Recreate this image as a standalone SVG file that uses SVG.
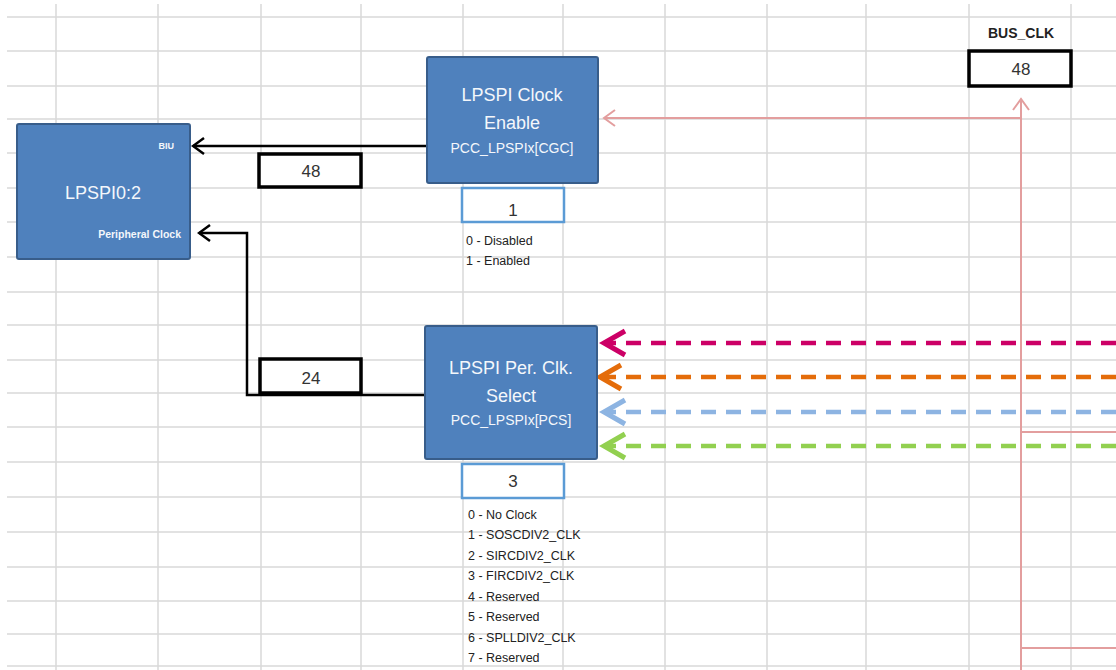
<svg xmlns="http://www.w3.org/2000/svg" width="1116" height="670" viewBox="0 0 1116 670">
<style>
.grid line{stroke:#d9d9d9;stroke-width:1.5}
.blk{fill:#4f81bd;stroke:#385d8a;stroke-width:2}
.t{font-family:"Liberation Sans",Arial,sans-serif}
.wt{fill:#f4f7fb;text-anchor:middle}
.val{fill:#ffffff;stroke:#000;stroke-width:3.5}
.sel{fill:#ffffff;stroke:#5b9bd5;stroke-width:2.5}
.vt{fill:#333;font-size:17px;text-anchor:middle}
.opt{fill:#222;font-size:12.5px}
.bl{fill:none;stroke:#000;stroke-width:2.5}
.pk{fill:none;stroke:#e39e9e;stroke-width:2}
.ds{fill:none;stroke-width:4.5;stroke-dasharray:15 10}
</style>
<defs>
<marker id="mBlk" markerUnits="userSpaceOnUse" markerWidth="16" markerHeight="22" viewBox="-2 -2 16 22" refX="12" refY="9" orient="auto"><path d="M1,1 L12,9 L1,17" fill="none" stroke="#000" stroke-width="2.5"/></marker>
<marker id="mPk" markerUnits="userSpaceOnUse" markerWidth="16" markerHeight="22" viewBox="-2 -2 16 22" refX="12" refY="9" orient="auto"><path d="M1,1 L12,9 L1,17" fill="none" stroke="#e39e9e" stroke-width="2"/></marker>
<marker id="mMag" markerUnits="userSpaceOnUse" markerWidth="30" markerHeight="34" viewBox="-3 -3 30 34" refX="22" refY="13" orient="auto"><path d="M1,1 L22,13 L1,25" fill="none" stroke="#cc0066" stroke-width="5" stroke-dasharray="none"/></marker>
<marker id="mOr" markerUnits="userSpaceOnUse" markerWidth="30" markerHeight="34" viewBox="-3 -3 30 34" refX="22" refY="13" orient="auto"><path d="M1,1 L22,13 L1,25" fill="none" stroke="#e46c0a" stroke-width="5" stroke-dasharray="none"/></marker>
<marker id="mBlu" markerUnits="userSpaceOnUse" markerWidth="30" markerHeight="34" viewBox="-3 -3 30 34" refX="22" refY="13" orient="auto"><path d="M1,1 L22,13 L1,25" fill="none" stroke="#8db4e2" stroke-width="5" stroke-dasharray="none"/></marker>
<marker id="mGrn" markerUnits="userSpaceOnUse" markerWidth="30" markerHeight="34" viewBox="-3 -3 30 34" refX="22" refY="13" orient="auto"><path d="M1,1 L22,13 L1,25" fill="none" stroke="#92d050" stroke-width="5" stroke-dasharray="none"/></marker>
</defs>
<rect width="1116" height="670" fill="#ffffff"/>
<g class="grid">
<line x1="7" y1="17" x2="1116" y2="17"/>
<line x1="7" y1="51" x2="1116" y2="51"/>
<line x1="7" y1="86" x2="1116" y2="86"/>
<line x1="7" y1="119" x2="1116" y2="119"/>
<line x1="7" y1="153" x2="1116" y2="153"/>
<line x1="7" y1="188" x2="1116" y2="188"/>
<line x1="7" y1="222" x2="1116" y2="222"/>
<line x1="7" y1="257" x2="1116" y2="257"/>
<line x1="7" y1="292" x2="1116" y2="292"/>
<line x1="7" y1="325" x2="1116" y2="325"/>
<line x1="7" y1="360" x2="1116" y2="360"/>
<line x1="7" y1="393" x2="1116" y2="393"/>
<line x1="7" y1="427" x2="1116" y2="427"/>
<line x1="7" y1="462" x2="1116" y2="462"/>
<line x1="7" y1="497" x2="1116" y2="497"/>
<line x1="7" y1="532" x2="1116" y2="532"/>
<line x1="7" y1="567" x2="1116" y2="567"/>
<line x1="7" y1="601" x2="1116" y2="601"/>
<line x1="7" y1="634" x2="1116" y2="634"/>
<line x1="7" y1="666" x2="1116" y2="666"/>
<line x1="56" y1="4" x2="56" y2="670"/>
<line x1="158" y1="4" x2="158" y2="670"/>
<line x1="261" y1="4" x2="261" y2="670"/>
<line x1="361" y1="4" x2="361" y2="670"/>
<line x1="463" y1="4" x2="463" y2="670"/>
<line x1="563" y1="4" x2="563" y2="670"/>
<line x1="665" y1="4" x2="665" y2="670"/>
<line x1="767" y1="4" x2="767" y2="670"/>
<line x1="866" y1="4" x2="866" y2="670"/>
<line x1="969" y1="4" x2="969" y2="670"/>
<line x1="1071" y1="4" x2="1071" y2="670"/>
</g>
<g id="connectors">
<path class="bl" d="M426,146 H193" marker-end="url(#mBlk)"/>
<path class="bl" d="M424,395 H247 V233 H199" marker-end="url(#mBlk)"/>
<path class="pk" d="M1021,670 V99" marker-end="url(#mPk)"/>
<path class="pk" d="M1021,118 H604" marker-end="url(#mPk)"/>
<path class="pk" d="M1021,432 H1116"/>
<path class="pk" d="M1021,648 H1116"/>
<path class="ds" stroke="#cc0066" d="M1116,343 H604" marker-end="url(#mMag)"/>
<path class="ds" stroke="#e46c0a" d="M1116,377 H600" marker-end="url(#mOr)"/>
<path class="ds" stroke="#8db4e2" d="M1116,412 H604" marker-end="url(#mBlu)"/>
<path class="ds" stroke="#92d050" d="M1116,446 H604" marker-end="url(#mGrn)"/>
</g>
<g id="lpspi">
<rect class="blk" x="17" y="124" width="173" height="135" rx="2"/>
<text class="t wt" x="103" y="199" font-size="18">LPSPI0:2</text>
<text class="t" x="174" y="149" font-size="9" font-weight="bold" fill="#f4f7fb" text-anchor="end">BIU</text>
<text class="t" x="181" y="238" font-size="10.5" font-weight="bold" fill="#f4f7fb" text-anchor="end">Peripheral Clock</text>
</g>
<g id="val48a">
<rect class="val" x="259" y="154" width="102" height="33"/>
<text class="t vt" x="311" y="177">48</text>
</g>
<g id="val24">
<rect class="val" x="260" y="359" width="101" height="34"/>
<text class="t vt" x="311" y="384">24</text>
</g>
<g id="cgc">
<rect class="blk" x="427" y="57" width="171" height="126" rx="2"/>
<text class="t wt" x="512" y="101" font-size="18">LPSPI Clock</text>
<text class="t wt" x="512" y="129" font-size="18">Enable</text>
<text class="t wt" x="512" y="153" font-size="14">PCC_LPSPIx[CGC]</text>
</g>
<g id="cgcval">
<rect class="sel" x="462" y="188" width="102" height="34"/>
<text class="t vt" x="513" y="216">1</text>
<text class="t opt" x="466" y="245">0 - Disabled</text>
<text class="t opt" x="466" y="265">1 - Enabled</text>
</g>
<g id="pcs">
<rect class="blk" x="425" y="326" width="172" height="133" rx="2"/>
<text class="t wt" x="511" y="374" font-size="18">LPSPI Per. Clk.</text>
<text class="t wt" x="511" y="402" font-size="18">Select</text>
<text class="t wt" x="511" y="425" font-size="14">PCC_LPSPIx[PCS]</text>
</g>
<g id="pcsval">
<rect class="sel" x="462" y="464" width="102" height="34"/>
<text class="t vt" x="513" y="487">3</text>
<text class="t opt" x="468" y="519">0 - No Clock</text>
<text class="t opt" x="468" y="539">1 - SOSCDIV2_CLK</text>
<text class="t opt" x="468" y="560">2 - SIRCDIV2_CLK</text>
<text class="t opt" x="468" y="580">3 - FIRCDIV2_CLK</text>
<text class="t opt" x="468" y="601">4 - Reserved</text>
<text class="t opt" x="468" y="621">5 - Reserved</text>
<text class="t opt" x="468" y="642">6 - SPLLDIV2_CLK</text>
<text class="t opt" x="468" y="662">7 - Reserved</text>
</g>
<g id="busclk">
<text class="t" x="1021" y="38" font-size="14" font-weight="bold" fill="#222" text-anchor="middle">BUS_CLK</text>
<rect class="val" x="969" y="51" width="102" height="35"/>
<text class="t vt" x="1021" y="75">48</text>
</g>
</svg>
